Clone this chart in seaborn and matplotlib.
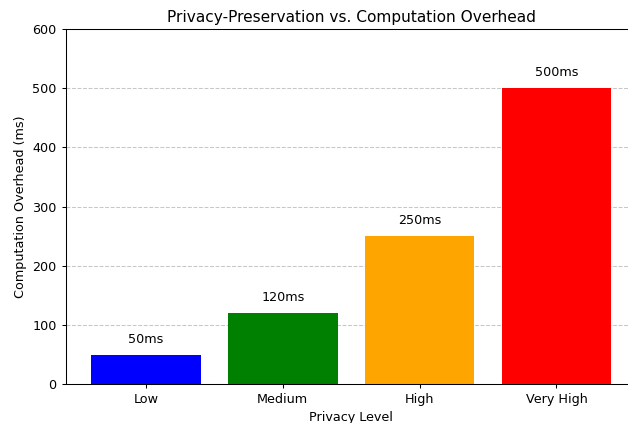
import matplotlib
matplotlib.use("Agg")
import matplotlib.pyplot as plt
import seaborn as sns
import pandas as pd

categories = ["Low", "Medium", "High", "Very High"]
overhead = [50, 120, 250, 500]
labels = ["50ms", "120ms", "250ms", "500ms"]
colors = ["blue", "green", "orange", "red"]

df = pd.DataFrame({"Privacy Level": categories, "Overhead": overhead})

fs = 9.2
fig = plt.figure(figsize=(6.28, 4.23), dpi=100)
ax = fig.add_axes([0.105, 0.092, 0.9085, 0.839])
sns.barplot(data=df, x="Privacy Level", y="Overhead", hue="Privacy Level",
            palette=colors, saturation=1, width=0.8, legend=False, ax=ax, zorder=2)
for i, (v, t) in enumerate(zip(overhead, labels)):
    ax.text(i, v + 15, t, ha="center", va="bottom", fontsize=fs)
ax.set_xlim(-0.585, 3.585)
ax.set_ylim(0, 600)
ax.set_xlabel("Privacy Level", fontsize=fs, labelpad=3)
ax.set_ylabel("Computation Overhead (ms)", fontsize=fs)
ax.set_title("Privacy-Preservation vs. Computation Overhead", fontsize=11.1, pad=5.5)
ax.tick_params(labelsize=fs, width=0.75, length=3.2)
for s in ax.spines.values():
    s.set_linewidth(0.75)
ax.yaxis.grid(True, linestyle="--", alpha=0.7, linewidth=0.75, zorder=0)
ax.set_axisbelow(True)
fig.savefig("out.png", dpi=100)
